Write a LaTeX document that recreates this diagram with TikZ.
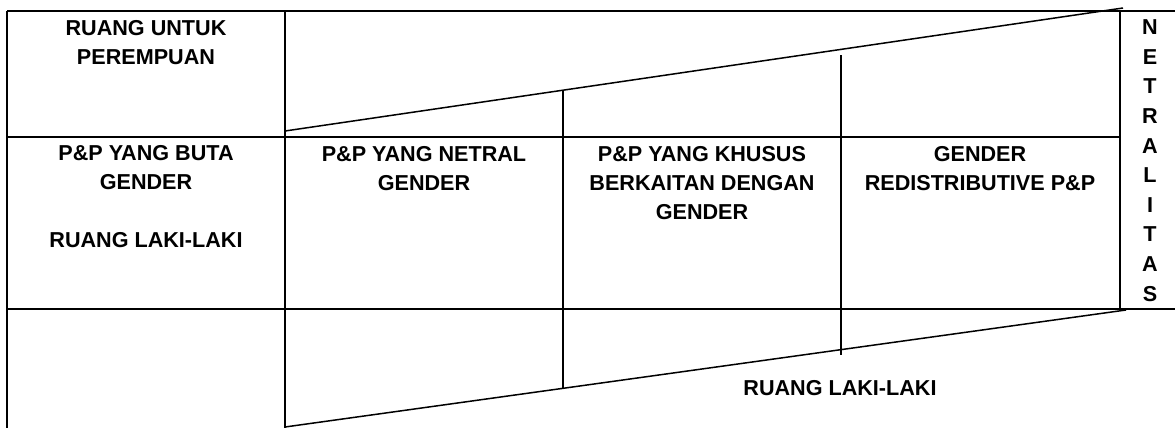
\documentclass[tikz,border=0pt]{standalone}
\usepackage{fontspec}
\setmainfont{Liberation Sans}
\usetikzlibrary{positioning}
\tikzset{
  celltext/.style={align=center, inner sep=0, anchor=base, font=\fontsize{10.8}{14.4}\selectfont\bfseries},
  gridline/.style={line width=1pt},
  wedgeline/.style={line width=0.75pt},
}
\begin{document}
\begin{tikzpicture}[x=0.5pt, y=-0.5pt]
\useasboundingbox (0,0) rectangle (1175,428);
%corners of the wedges
\coordinate (top_start) at (285,131);
\coordinate (top_end) at (1123,8);
\coordinate (bot_start) at (285,427);
\coordinate (bot_end) at (1126,310);
%table frame
\draw[gridline] (7,11) -- (1175,11);
\draw[gridline] (7,137) -- (1120,137);
\draw[gridline] (7,309) -- (1175,309);
\draw[gridline] (7,11) -- (7,428);
\draw[gridline] (285,11) -- (285,428);
\draw[gridline] (1120,11) -- (1120,309);
\draw[gridline] (563,137) -- (563,309);
\draw[gridline] (841,137) -- (841,309);
%space for women and men
\draw[wedgeline] (top_start) -- (top_end);
\draw[wedgeline] (bot_start) -- (bot_end);
\draw[wedgeline] (563,90) -- (563,137);
\draw[wedgeline] (563,309) -- (563,388);
\draw[wedgeline] (841,55) -- (841,137);
\draw[wedgeline] (841,309) -- (841,355);
%labels (placed at the baseline of their last line)
\node[celltext] (perempuan) at (146,64) {RUANG UNTUK\\PEREMPUAN};
\node[celltext] (buta) at (146,247) {P\&P YANG BUTA\\GENDER\\\\RUANG LAKI-LAKI};
\node[celltext] (netral) at (424,190) {P\&P YANG NETRAL\\GENDER};
\node[celltext] (khusus) at (702,219) {P\&P YANG KHUSUS\\BERKAITAN DENGAN\\GENDER};
\node[celltext] (redistributive) at (980,190) {GENDER\\REDISTRIBUTIVE P\&P};
\node[celltext, font=\fontsize{10.8}{14.8}\selectfont\bfseries] (netralitas) at (1150,301) {N\\E\\T\\R\\A\\L\\I\\T\\A\\S};
\node[celltext] (lakilaki) at (840,395) {RUANG LAKI-LAKI};
\end{tikzpicture}
\end{document}
